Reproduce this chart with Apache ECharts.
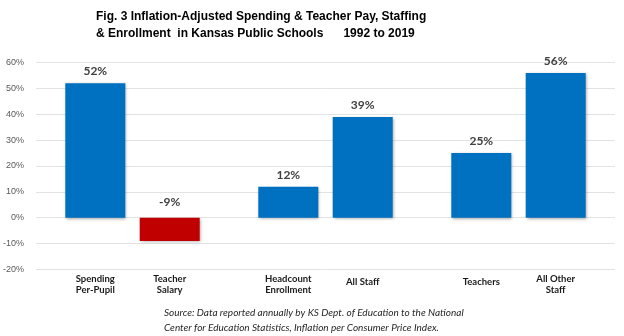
<!DOCTYPE html>
<html>
<head>
<meta charset="utf-8">
<script src="https://cdn.jsdelivr.net/npm/echarts@6/dist/echarts.min.js"></script>
<style>
  html, body { margin: 0; padding: 0; background: #fff; }
  #chart { width: 624px; height: 336px; }
</style>
</head>
<body>
<div id="chart"></div>
<script>
// Each group shows two bars side by side: a left bar and a right bar.
const groupKeys = ['pay', 'enrollment', 'staff'];
const leftNames = ['Spending\nPer-Pupil', 'Headcount\nEnrollment', 'Teachers'];
const rightNames = ['Teacher\nSalary', 'All Staff', 'All Other\nStaff'];
const leftValues = [52, 12, 25];
const rightValues = [-9, 39, 56];
const yTicks = [-20, -10, 0, 10, 20, 30, 40, 50, 60];

const BLUE = '#0070C0';
const RED = '#C00000';

const chart = echarts.init(document.getElementById('chart'), null, { renderer: 'canvas' });

// Build a two-column, two-line rich label for one group.
function groupLabel(idx) {
  const a = leftNames[idx].split('\n');
  const b = rightNames[idx].split('\n');
  const line = (i) => {
    const tok = (parts) => {
      if (parts.length === 1) return i === 0 ? '{s|' + parts[0] + '}' : '{n|\u00a0}';
      return '{n|' + parts[i] + '}';
    };
    return tok(a) + tok(b);
  };
  return line(0) + '\n' + line(1);
}

const catFont = { fontFamily: 'Lato', fontWeight: 'bold', fontSize: 9.5, color: '#1a1a1a' };

const barShadow = {
  shadowBlur: 3,
  shadowColor: 'rgba(0,0,0,0.35)',
  shadowOffsetX: 1,
  shadowOffsetY: 1
};

const valueLabel = {
  show: true,
  position: 'top',
  distance: 6,
  fontFamily: 'Lato',
  fontWeight: 'bold',
  fontSize: 12,
  color: '#404040',
  formatter: (p) => p.value + '%'
};

chart.setOption({
  animation: false,
  backgroundColor: '#fff',
  title: [
    {
      text: 'Fig. 3 Inflation-Adjusted Spending & Teacher Pay, Staffing\n& Enrollment  in Kansas Public Schools      1992 to 2019',
      left: 91,
      top: 4,
      textStyle: {
        fontFamily: 'Liberation Sans, Arial',
        fontWeight: 'bold',
        fontSize: 12,
        lineHeight: 16.3,
        color: '#000'
      }
    },
    {
      text: 'Source: Data reported annually by KS Dept. of Education to the National\nCenter for Education Statistics, Inflation per Consumer Price Index.',
      left: 159,
      top: 299.5,
      textStyle: {
        fontFamily: 'Lato',
        fontStyle: 'italic',
        fontWeight: 'normal',
        fontSize: 10,
        lineHeight: 15.6,
        color: '#262626'
      }
    }
  ],
  grid: { left: 33, right: 9, top: 62.7, bottom: 66.7, containLabel: false },
  xAxis: {
    type: 'category',
    data: groupKeys,
    axisLine: { show: false },
    axisTick: { show: false },
    splitLine: { show: false },
    axisLabel: {
      interval: 0,
      margin: 4,
      formatter: (v, idx) => groupLabel(idx),
      rich: {
        n: Object.assign({ width: 74.4, align: 'center', lineHeight: 11 }, catFont),
        s: Object.assign({ width: 74.4, align: 'center', lineHeight: 11, padding: [7, 0, 0, 0] }, catFont)
      }
    }
  },
  yAxis: {
    type: 'value',
    min: yTicks[0],
    max: yTicks[yTicks.length - 1],
    interval: 10,
    axisLine: { show: false },
    axisTick: { show: false },
    splitLine: { lineStyle: { color: '#e3e3e3', width: 1 } },
    axisLabel: {
      margin: 12,
      fontFamily: 'Liberation Sans, Arial',
      fontSize: 9,
      color: '#595959',
      formatter: (v) => v + '%'
    }
  },
  series: [
    {
      type: 'bar',
      barWidth: 60,
      barGap: '24%',
      data: leftValues.map((v) => ({ value: v })),
      itemStyle: Object.assign({ color: BLUE }, barShadow),
      label: valueLabel
    },
    {
      type: 'bar',
      barWidth: 60,
      barGap: '24%',
      data: rightValues.map((v) => ({
        value: v,
        itemStyle: { color: v < 0 ? RED : BLUE },
        label: v < 0 ? { distance: 10 } : {}
      })),
      itemStyle: Object.assign({ color: BLUE }, barShadow),
      label: valueLabel
    }
  ]
});
</script>
</body>
</html>
